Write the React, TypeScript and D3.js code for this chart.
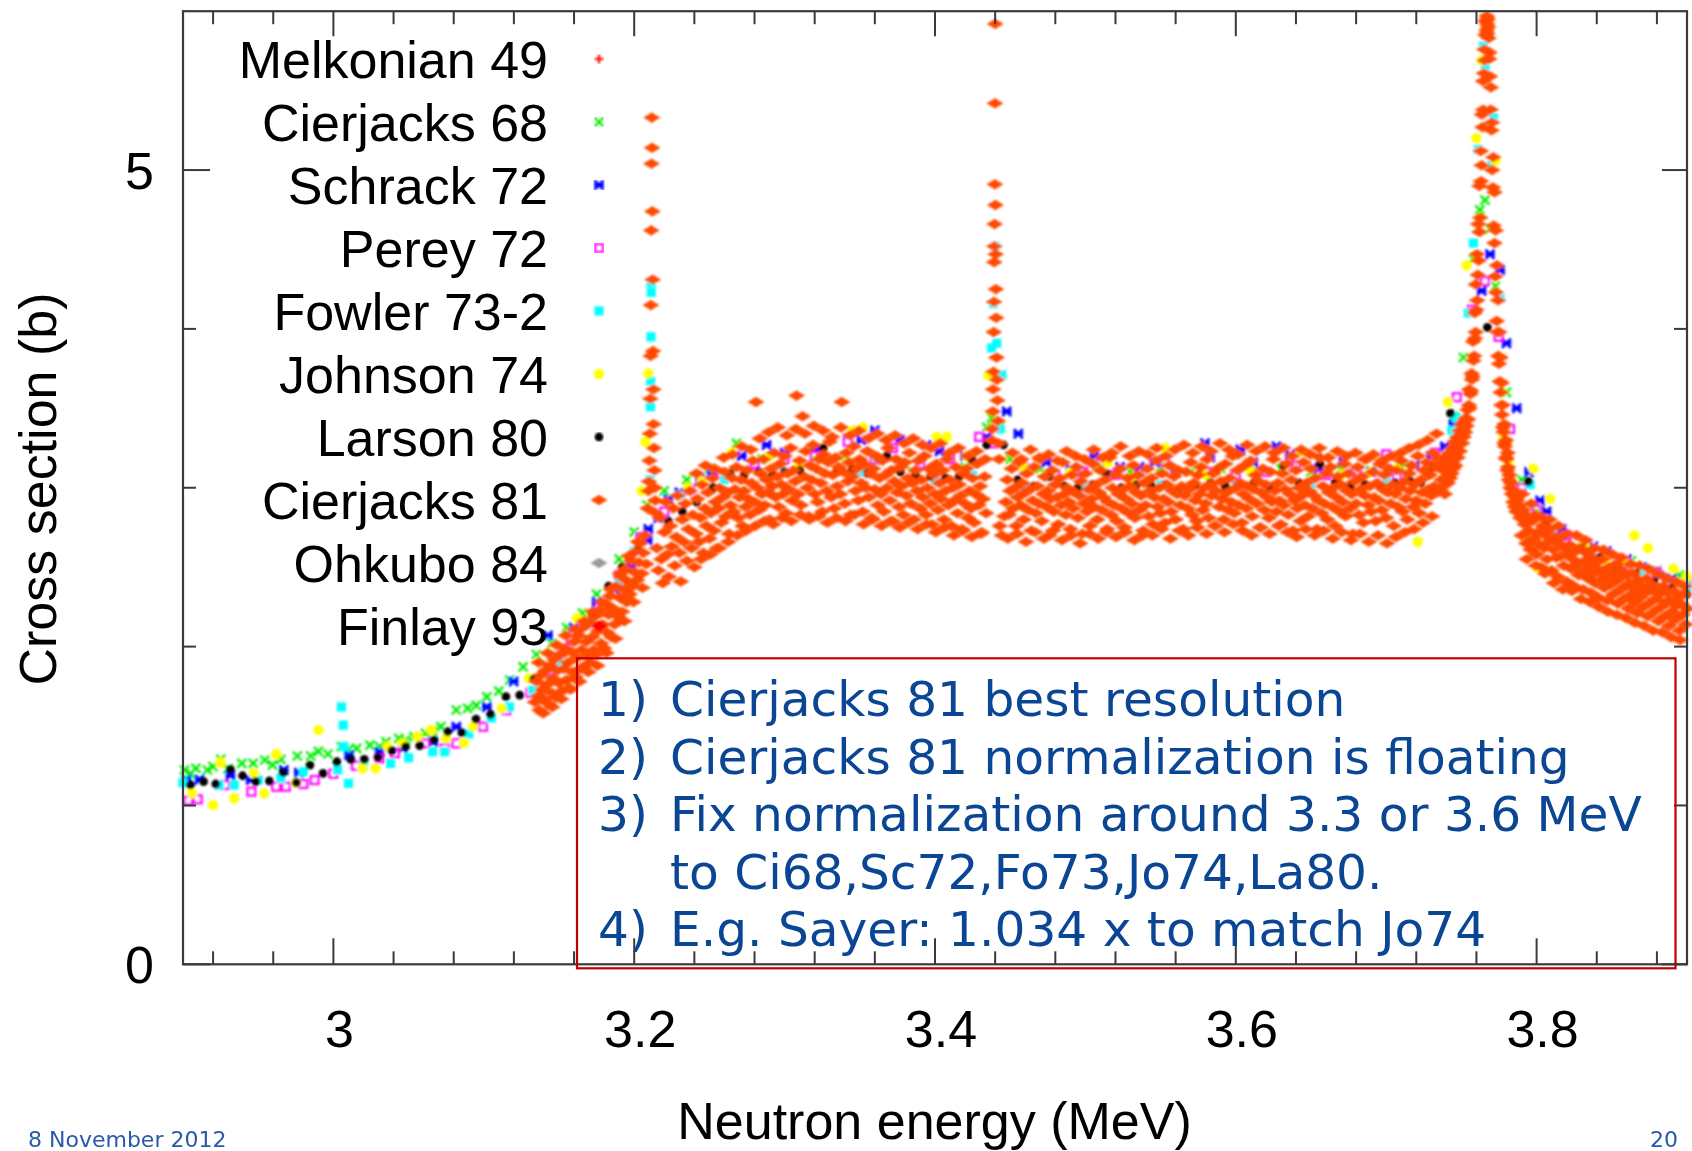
import React from 'react';
import * as d3 from 'd3';

// ---------- axes ----------
const X_DOMAIN = [2.9, 3.9];
const Y_DOMAIN = [0, 6];
const xMajorTicks = [3.0, 3.2, 3.4, 3.6, 3.8];
const xMajorLabels = ['3', '3.2', '3.4', '3.6', '3.8'];
const yMajorTicks = [0, 5];
const yMajorLabels = ['0', '5'];
const xTitle = 'Neutron energy (MeV)';
const yTitle = 'Cross section (b)';

// ---------- legend ----------
const legendNames = [
  'Melkonian 49', 'Cierjacks 68', 'Schrack 72', 'Perey 72', 'Fowler 73-2',
  'Johnson 74', 'Larson 80', 'Cierjacks 81', 'Ohkubo 84', 'Finlay 93',
];

// ---------- notes ----------
const noteLines = [
  { num: '1)', text: 'Cierjacks 81 best resolution' },
  { num: '2)', text: 'Cierjacks 81 normalization is floating' },
  { num: '3)', text: 'Fix normalization around 3.3 or 3.6 MeV' },
  { num: '', text: 'to Ci68,Sc72,Fo73,Jo74,La80.' },
  { num: '4)', text: 'E.g. Sayer: 1.034 x to match Jo74' },
];
const footerDate = '8 November 2012';
const footerPage = '20';

// ---------- low-resolution data sets: [E (MeV), sigma (b)] ----------
const melkonian49: number[][] = [];
const ohkubo84: number[][] = [];
const finlay93: number[][] = [];

const cierjacks68 = [
  [2.9009, 1.223], [2.905, 1.20], [2.9086, 1.234], [2.9162, 1.223], [2.92, 1.245], [2.9251, 1.29],
  [2.93, 1.23], [2.9391, 1.265], [2.9467, 1.265], [2.9544, 1.286], [2.9595, 1.255], [2.965, 1.29],
  [2.976, 1.311], [2.9849, 1.311], [2.99, 1.34], [2.9964, 1.324], [3.0053, 1.37], [3.01, 1.35],
  [3.0155, 1.36], [3.0243, 1.38], [3.0307, 1.37], [3.035, 1.40], [3.0435, 1.423], [3.048, 1.41],
  [3.0536, 1.433], [3.0612, 1.454], [3.066, 1.47], [3.0715, 1.496], [3.0817, 1.601], [3.0892, 1.611],
  [3.095, 1.63], [3.102, 1.684], [3.11, 1.72], [3.1172, 1.79], [3.1261, 1.873], [3.135, 1.95],
  [3.1452, 2.021], [3.155, 2.12], [3.1656, 2.21], [3.175, 2.33], [3.19, 2.55], [3.2, 2.72],
  [3.2087, 2.89], [3.22, 2.98], [3.235, 3.05], [3.25, 3.12], [3.268, 3.28], [3.285, 3.18],
  [3.30, 3.20], [3.32, 3.18], [3.34, 3.20], [3.36, 3.17], [3.38, 3.15], [3.40, 3.12], [3.42, 3.13],
  [3.4344, 3.38], [3.4377, 3.44], [3.4432, 3.39], [3.45, 3.18], [3.47, 3.12], [3.49, 3.10],
  [3.51, 3.12], [3.53, 3.10], [3.55, 3.13], [3.57, 3.10], [3.59, 3.12], [3.61, 3.14], [3.63, 3.12],
  [3.65, 3.10], [3.67, 3.12], [3.69, 3.11], [3.71, 3.13], [3.73, 3.20], [3.745, 3.45], [3.7513, 3.82],
  [3.758, 4.44], [3.7623, 4.75], [3.7657, 4.81], [3.769, 4.63], [3.7726, 4.27], [3.78, 3.60],
  [3.79, 3.05], [3.80, 2.85], [3.815, 2.70], [3.83, 2.62], [3.845, 2.58], [3.863, 2.54],
  [3.88, 2.48], [3.895, 2.45],
];

const schrack72 = [
  [2.9023, 1.16], [2.911, 1.164], [2.9315, 1.19], [2.945, 1.16], [2.967, 1.223], [2.977, 1.206],
  [3.0104, 1.317], [3.0307, 1.338], [3.046, 1.36], [3.0664, 1.40], [3.0817, 1.496], [3.102, 1.62],
  [3.1198, 1.78], [3.1427, 2.07], [3.16, 2.12], [3.175, 2.28], [3.187, 2.36], [3.198, 2.50],
  [3.209, 2.67], [3.2094, 2.74], [3.216, 2.81], [3.2227, 2.93], [3.23, 2.97], [3.2438, 3.05],
  [3.2515, 3.08], [3.2715, 3.20], [3.288, 3.27], [3.30, 3.22], [3.32, 3.24], [3.351, 3.30],
  [3.36, 3.36], [3.3767, 3.30], [3.3945, 3.27], [3.403, 3.23], [3.42, 3.20], [3.4344, 3.32],
  [3.4477, 3.48], [3.4554, 3.34], [3.474, 3.16], [3.49, 3.12], [3.506, 3.20], [3.523, 3.13],
  [3.536, 3.13], [3.546, 3.16], [3.56, 3.10], [3.5795, 3.28], [3.583, 3.19], [3.603, 3.24],
  [3.6116, 3.16], [3.627, 3.26], [3.636, 3.21], [3.655, 3.12], [3.6715, 3.16], [3.69, 3.10],
  [3.705, 3.12], [3.719, 3.14], [3.73, 3.20], [3.739, 3.26], [3.7446, 3.40], [3.7635, 4.24],
  [3.769, 4.47], [3.7757, 4.37], [3.78, 3.91], [3.7868, 3.50], [3.795, 3.10], [3.8023, 2.92],
  [3.8067, 2.85], [3.8167, 2.74], [3.8377, 2.63], [3.8466, 2.60], [3.86, 2.55], [3.87, 2.50],
  [3.882, 2.445], [3.89, 2.43], [3.90, 2.42],
];

const perey72 = [
  [2.9035, 1.03], [2.9098, 1.039], [2.928, 1.129], [2.9455, 1.087], [2.962, 1.118], [2.9684, 1.118],
  [2.98, 1.135], [2.9875, 1.16], [3.0, 1.20], [3.015, 1.25], [3.0307, 1.297], [3.0409, 1.328],
  [3.0612, 1.391], [3.074, 1.36], [3.0817, 1.391], [3.0995, 1.496], [3.115, 1.60], [3.1312, 1.71],
  [3.145, 1.85], [3.158, 2.04], [3.175, 2.22], [3.19, 2.45], [3.2039, 2.69], [3.22, 2.85],
  [3.237, 2.99], [3.258, 3.09], [3.28, 3.15], [3.30, 3.18], [3.32, 3.20], [3.342, 3.29],
  [3.36, 3.18], [3.372, 3.25], [3.39, 3.15], [3.41, 3.18], [3.4294, 3.32], [3.4388, 3.28],
  [3.46, 3.12], [3.48, 3.08], [3.4986, 3.10], [3.52, 3.08], [3.5527, 3.16], [3.58, 3.10],
  [3.60, 3.08], [3.62, 3.10], [3.64, 3.14], [3.66, 3.08], [3.68, 3.10], [3.70, 3.21], [3.707, 3.07],
  [3.7324, 3.22], [3.7469, 3.57], [3.757, 4.12], [3.7657, 4.30], [3.7748, 3.95], [3.7823, 3.37],
  [3.79, 3.00], [3.80, 2.86], [3.82, 2.70], [3.84, 2.60], [3.86, 2.53], [3.88, 2.47], [3.90, 2.40],
];

const fowler73 = [
  [2.90, 1.143], [2.924, 1.129], [2.934, 1.129], [2.95, 1.16], [2.965, 1.17], [2.98, 1.212],
  [3.0027, 1.223], [3.0053, 1.62], [3.0066, 1.506], [3.007, 1.37], [3.01, 1.139], [3.02, 1.25],
  [3.038, 1.265], [3.05, 1.30], [3.066, 1.338], [3.074, 1.338], [3.09, 1.45], [3.105, 1.55],
  [3.117, 1.62], [3.1325, 1.727], [3.15, 1.90], [3.17, 2.15], [3.19, 2.40], [3.20, 2.60],
  [3.2105, 3.05], [3.2108, 3.51], [3.211, 3.67], [3.2112, 3.95], [3.2113, 4.23], [3.2114, 4.29],
  [3.23, 2.95], [3.26, 3.05], [3.30, 3.10], [3.35, 3.10], [3.40, 3.05], [3.425, 3.08],
  [3.4377, 3.88], [3.4388, 4.16], [3.44, 4.52], [3.441, 3.91], [3.4432, 3.37], [3.4444, 3.71],
  [3.46, 3.00], [3.50, 3.00], [3.55, 3.02], [3.60, 3.02], [3.65, 3.00], [3.70, 3.05],
  [3.7436, 3.36], [3.7469, 3.44], [3.7546, 4.10], [3.758, 4.54], [3.7613, 5.13], [3.7646, 5.78],
  [3.7657, 5.65], [3.77, 5.03], [3.7712, 5.33], [3.7757, 4.19], [3.7956, 3.02], [3.81, 2.70],
  [3.84, 2.55], [3.87, 2.45], [3.90, 2.38],
];

const johnson74 = [
  [2.906, 1.076], [2.92, 1.003], [2.925, 1.269], [2.934, 1.045], [2.947, 1.202], [2.954, 1.076],
  [2.962, 1.324], [2.975, 1.143], [2.99, 1.475], [3.0193, 1.234], [3.028, 1.234], [3.036, 1.37],
  [3.046, 1.391], [3.056, 1.433], [3.065, 1.475], [3.075, 1.423], [3.0867, 1.395], [3.093, 1.496],
  [3.112, 1.611], [3.13, 1.80], [3.1618, 2.178], [3.205, 2.98], [3.2074, 3.29], [3.2094, 3.72],
  [3.2357, 3.00], [3.245, 3.04], [3.2648, 3.22], [3.29, 3.20], [3.31, 3.15], [3.3455, 3.36],
  [3.3522, 3.38], [3.4011, 3.32], [3.4078, 3.32], [3.421, 3.20], [3.4355, 3.71], [3.46, 3.12],
  [3.49, 3.10], [3.515, 3.16], [3.53, 3.05], [3.553, 3.25], [3.58, 3.08], [3.61, 3.10],
  [3.644, 3.23], [3.67, 3.08], [3.69, 3.10], [3.707, 3.12], [3.721, 2.66], [3.741, 3.54],
  [3.7535, 4.40], [3.76, 5.20], [3.7635, 5.69], [3.7726, 5.06], [3.7757, 3.82], [3.778, 3.33],
  [3.7812, 3.16], [3.7845, 2.92], [3.7934, 2.68], [3.7978, 3.12], [3.80, 2.50], [3.809, 2.93],
  [3.82, 2.62], [3.832, 2.64], [3.845, 2.55], [3.858, 2.54], [3.865, 2.70], [3.874, 2.62],
  [3.891, 2.49], [3.90, 2.44],
];

const larson80 = [
  [2.905, 1.129], [2.9137, 1.15], [2.9218, 1.135], [2.9315, 1.227], [2.9396, 1.187], [2.9485, 1.15],
  [2.9574, 1.154], [2.9666, 1.208], [2.9753, 1.143], [2.9844, 1.254], [2.9931, 1.202], [3.0023, 1.275],
  [3.0116, 1.29], [3.0205, 1.29], [3.0297, 1.303], [3.0389, 1.345], [3.048, 1.37], [3.0574, 1.376],
  [3.0669, 1.412], [3.076, 1.464], [3.0854, 1.458], [3.0948, 1.544], [3.1045, 1.574], [3.1147, 1.685],
  [3.1239, 1.695], [3.1333, 1.796], [3.1529, 1.958], [3.1626, 2.084], [3.172, 2.20], [3.183, 2.38],
  [3.192, 2.50], [3.2021, 2.61], [3.2227, 2.79], [3.232, 2.85], [3.2416, 2.91], [3.2525, 3.00],
  [3.2637, 3.09], [3.273, 3.08], [3.283, 3.10], [3.292, 3.08], [3.30, 3.10], [3.31, 3.11],
  [3.3257, 3.25], [3.335, 3.10], [3.345, 3.12], [3.355, 3.09], [3.368, 3.20], [3.377, 3.10],
  [3.387, 3.08], [3.397, 3.07], [3.407, 3.06], [3.416, 3.07], [3.4244, 3.18], [3.4344, 3.27],
  [3.4455, 3.27], [3.455, 3.05], [3.466, 3.01], [3.476, 3.07], [3.486, 3.01], [3.495, 3.00],
  [3.505, 3.02], [3.514, 3.09], [3.524, 3.00], [3.534, 3.02], [3.544, 3.01], [3.553, 3.02],
  [3.563, 3.00], [3.573, 3.02], [3.583, 3.03], [3.593, 3.01], [3.602, 3.02], [3.612, 3.03],
  [3.622, 3.01], [3.6316, 3.14], [3.642, 3.03], [3.656, 3.15], [3.666, 3.03], [3.676, 3.01],
  [3.686, 3.02], [3.696, 3.01], [3.706, 3.03], [3.716, 3.04], [3.723, 3.03], [3.731, 3.13],
  [3.7427, 3.47], [3.7673, 4.01], [3.7945, 3.04], [3.8066, 2.79], [3.818, 2.70], [3.83, 2.62],
  [3.842, 2.56], [3.854, 2.50], [3.866, 2.46], [3.878, 2.41], [3.89, 2.37], [3.90, 2.33],
];

// ---------- Cierjacks 81 high-resolution data: flat [E (keV), sigma (cb)] pairs ----------
const ci81Rise = [
  3134,165, 3135,178, 3136,169, 3137,160, 3138,182, 3139,173, 3140,167, 3141,185, 3142,176, 3143,164,
  3144,188, 3145,171, 3146,180, 3147,192, 3148,168, 3149,185, 3150,177, 3151,195, 3152,172, 3153,186,
  3154,199, 3155,179, 3156,190, 3157,174, 3158,197, 3159,184, 3160,203, 3161,181, 3162,193, 3163,207,
  3164,186, 3165,198, 3166,212, 3167,188, 3168,203, 3169,194, 3170,215, 3171,190, 3172,206, 3173,198,
  3174,219, 3175,195, 3176,210, 3177,223, 3178,202, 3179,214, 3180,199, 3181,227, 3182,209, 3183,220,
  3184,232, 3185,206, 3186,224, 3187,214, 3188,238, 3189,219, 3190,231, 3191,244, 3192,222, 3193,236,
  3194,249, 3195,228, 3196,241, 3197,233, 3198,254, 3199,238, 3200,247, 3201,260, 3202,242, 3203,253,
  3204,265, 3205,246, 3206,259, 3207,270, 3208,252,
  3136.5,190, 3139.5,158, 3142.5,196, 3145.5,162, 3148.5,201, 3151.5,167, 3154.5,207, 3157.5,173,
  3160.5,211, 3163.5,178, 3166.5,216, 3169.5,184, 3172.5,222, 3175.5,188, 3178.5,228, 3181.5,196,
  3184.5,236, 3187.5,205, 3190.5,246, 3193.5,216, 3196.5,257, 3199.5,228, 3202.5,266, 3205.5,237,
];

const ci81Peak1 = [
  3209.0,287, 3209.4,298, 3209.8,304, 3210.1,317, 3210.4,334, 3210.7,356, 3210.9,383, 3211.1,415,
  3211.3,462, 3211.5,504, 3211.7,533, 3211.9,514, 3212.1,474, 3212.3,431, 3212.5,386, 3212.7,362,
  3212.9,340, 3213.1,325, 3213.4,311, 3213.7,300, 3214.0,292, 3214.4,284,
];

const ci81PlateauA = [
  3215,262, 3216,248, 3217,281, 3218,255, 3219,240, 3220,272, 3221,291, 3222,258, 3223,244, 3224,276,
  3225,263, 3226,287, 3227,251, 3228,269, 3229,295, 3230,259, 3231,241, 3232,280, 3233,266, 3234,290,
  3235,254, 3236,274, 3237,298, 3238,262, 3239,283, 3240,250, 3241,271, 3242,293, 3243,266, 3244,281,
  3245,302, 3246,259, 3247,287, 3248,276, 3249,297, 3250,268, 3251,284, 3252,306, 3253,273, 3254,291,
  3255,262, 3256,287, 3257,300, 3258,278, 3259,294, 3260,310, 3261,282, 3262,297, 3263,271, 3264,289,
  3265,306, 3266,285, 3267,299, 3268,313, 3269,281, 3270,294, 3271,305, 3272,276, 3273,298, 3274,288,
  3275,311, 3276,293, 3277,283, 3278,303, 3279,317, 3280,291, 3281,354, 3282,300, 3283,286, 3284,309,
  3285,296, 3286,318, 3287,289, 3288,305, 3289,297, 3290,280, 3291,312, 3292,301, 3293,322, 3294,294,
  3295,307, 3296,288, 3297,315, 3298,302, 3299,296, 3300,320, 3301,284, 3302,309, 3303,299, 3304,325,
  3305,292, 3306,311, 3307,304, 3308,358, 3309,296, 3310,317, 3311,289, 3312,345, 3313,307, 3314,323,
  3315,300, 3316,282, 3317,314, 3318,305, 3319,327, 3320,296, 3321,312, 3322,291, 3323,318, 3324,303,
  3325,285, 3326,321, 3327,309, 3328,298, 3329,316, 3330,329, 3331,294, 3332,308, 3333,287, 3334,319,
  3335,301, 3336,313, 3337,296, 3338,354, 3339,310, 3340,290, 3341,322, 3342,304, 3343,316, 3344,283,
  3345,307, 3346,326, 3347,298, 3348,312, 3349,292, 3350,318, 3351,303, 3352,285, 3353,315, 3354,300,
  3355,323, 3356,294, 3357,309, 3358,281, 3359,312, 3360,299, 3361,320, 3362,289, 3363,306, 3364,296,
  3365,317, 3366,285, 3367,308, 3368,300, 3369,325, 3370,292, 3371,311, 3372,279, 3373,304, 3374,318,
  3375,297, 3376,288, 3377,313, 3378,301, 3379,283, 3380,316, 3381,295, 3382,306, 3383,322, 3384,290,
  3385,303, 3386,280, 3387,311, 3388,298, 3389,317, 3390,287, 3391,305, 3392,294, 3393,320, 3394,283,
  3395,300, 3396,312, 3397,290, 3398,277, 3399,308, 3400,296, 3401,315, 3402,286, 3403,303, 3404,293,
  3405,311, 3406,280, 3407,298, 3408,318, 3409,289, 3410,305, 3411,276, 3412,300, 3413,292, 3414,313,
  3415,284, 3416,302, 3417,295, 3418,274, 3419,309, 3420,290, 3421,312, 3422,281, 3423,298, 3424,287,
  3425,306, 3426,278, 3427,296, 3428,315, 3429,289, 3430,301, 3431,272, 3432,293, 3433,307, 3434,284,
];

// points scattered towards the upper and lower edge of the plateau band
const ci81EdgesA = [
  3241.5,309, 3244.5,255, 3247.5,314, 3250.5,258, 3253.5,312, 3256.5,262, 3259.5,319, 3262.5,266,
  3265.5,321, 3268.5,270, 3271.5,326, 3274.5,273, 3277.5,324, 3280.5,276, 3283.5,331, 3286.5,279,
  3289.5,335, 3292.5,277, 3295.5,338, 3298.5,281, 3301.5,333, 3304.5,279, 3307.5,337, 3310.5,283,
  3313.5,334, 3316.5,280, 3319.5,339, 3322.5,282, 3325.5,336, 3328.5,278, 3331.5,332, 3334.5,281,
  3337.5,338, 3340.5,279, 3343.5,333, 3346.5,283, 3349.5,336, 3352.5,277, 3355.5,331, 3358.5,280,
  3361.5,334, 3364.5,276, 3367.5,330, 3370.5,279, 3373.5,333, 3376.5,275, 3379.5,328, 3382.5,278,
  3385.5,331, 3388.5,274, 3391.5,327, 3394.5,277, 3397.5,325, 3400.5,272, 3403.5,328, 3406.5,275,
  3409.5,322, 3412.5,270, 3415.5,325, 3418.5,273, 3421.5,320, 3424.5,269, 3427.5,323, 3430.5,271,
  3433.5,318,
];

const ci81Peak2 = [
  3437.8,330, 3438.1,337, 3438.4,348, 3438.6,362, 3438.8,373, 3439.0,398, 3439.2,417, 3439.35,442,
  3439.5,452, 3439.65,466, 3439.8,491, 3439.9,542, 3440.0,592, 3440.15,478, 3440.3,447, 3440.5,425,
  3440.7,407, 3440.9,382, 3441.2,368, 3441.5,355, 3441.8,342, 3442.2,328, 3442.6,318,
  3443.0,276, 3444.5,270, 3446.0,282,
];

const ci81PlateauB = [
  3447,291, 3448,305, 3449,283, 3450,298, 3451,312, 3452,287, 3453,300, 3454,276, 3455,294, 3456,316,
  3457,289, 3458,303, 3459,280, 3460,297, 3461,309, 3462,286, 3463,299, 3464,273, 3465,292, 3466,313,
  3467,284, 3468,301, 3469,290, 3470,318, 3471,279, 3472,296, 3473,307, 3474,288, 3475,298, 3476,270,
  3477,293, 3478,311, 3479,285, 3480,302, 3481,294, 3482,277, 3483,306, 3484,289, 3485,316, 3486,296,
  3487,283, 3488,300, 3489,291, 3490,274, 3491,308, 3492,287, 3493,297, 3494,313, 3495,281, 3496,295,
  3497,304, 3498,271, 3499,290, 3500,309, 3501,285, 3502,299, 3503,276, 3504,293, 3505,315, 3506,288,
  3507,302, 3508,280, 3509,297, 3510,311, 3511,286, 3512,294, 3513,305, 3514,272, 3515,291, 3516,319,
  3517,283, 3518,300, 3519,289, 3520,308, 3521,279, 3522,296, 3523,312, 3524,287, 3525,299, 3526,275,
  3527,293, 3528,306, 3529,284, 3530,301, 3531,290, 3532,314, 3533,281, 3534,297, 3535,308, 3536,286,
  3537,295, 3538,270, 3539,303, 3540,289, 3541,312, 3542,282, 3543,298, 3544,306, 3545,277, 3546,294,
  3547,317, 3548,288, 3549,300, 3550,284, 3551,309, 3552,293, 3553,278, 3554,302, 3555,291, 3556,314,
  3557,285, 3558,298, 3559,307, 3560,280, 3561,296, 3562,311, 3563,289, 3564,301, 3565,274, 3566,295,
  3567,310, 3568,287, 3569,299, 3570,316, 3571,283, 3572,303, 3573,292, 3574,279, 3575,308, 3576,296,
  3577,313, 3578,286, 3579,300, 3580,290, 3581,318, 3582,281, 3583,302, 3584,295, 3585,309, 3586,276,
  3587,298, 3588,312, 3589,288, 3590,304, 3591,293, 3592,280, 3593,315, 3594,297, 3595,286, 3596,306,
  3597,291, 3598,320, 3599,284, 3600,300, 3601,311, 3602,289, 3603,303, 3604,278, 3605,296, 3606,314,
  3607,287, 3608,301, 3609,293, 3610,317, 3611,282, 3612,299, 3613,308, 3614,290, 3615,304, 3616,275,
  3617,297, 3618,312, 3619,286, 3620,302, 3621,294, 3622,281, 3623,310, 3624,291, 3625,318, 3626,298,
  3627,285, 3628,303, 3629,292, 3630,277, 3631,309, 3632,289, 3633,299, 3634,315, 3635,283, 3636,296,
  3637,305, 3638,273, 3639,292, 3640,311, 3641,287, 3642,300, 3643,279, 3644,295, 3645,316, 3646,289,
  3647,303, 3648,282, 3649,298, 3650,312, 3651,287, 3652,295, 3653,306, 3654,274, 3655,292, 3656,319,
  3657,284, 3658,301, 3659,290, 3660,309, 3661,280, 3662,297, 3663,313, 3664,288, 3665,300, 3666,276,
  3667,294, 3668,307, 3669,285, 3670,302, 3671,291, 3672,315, 3673,282, 3674,298, 3675,309, 3676,287,
  3677,296, 3678,271, 3679,304, 3680,290, 3681,313, 3682,283, 3683,299, 3684,307, 3685,278, 3686,295,
  3687,318, 3688,289, 3689,301, 3690,285, 3691,310, 3692,294, 3693,279, 3694,303, 3695,292, 3696,315,
  3697,286, 3698,299, 3699,308, 3700,281, 3701,297, 3702,312, 3703,290, 3704,302, 3705,276, 3706,296,
  3707,311, 3708,288, 3709,300, 3710,317, 3711,285, 3712,304, 3713,293, 3714,280, 3715,309, 3716,298,
  3717,314, 3718,288, 3719,302, 3720,292, 3721,320, 3722,284, 3723,305, 3724,297, 3725,311, 3726,290,
  3727,316, 3728,299, 3729,308, 3730,295, 3731,322, 3732,301, 3733,313, 3734,297, 3735,318,
];

const ci81EdgesB = [
  3448.5,268, 3451.5,322, 3454.5,271, 3457.5,318, 3460.5,266, 3463.5,324, 3466.5,272, 3469.5,319,
  3472.5,268, 3475.5,321, 3478.5,273, 3481.5,317, 3484.5,267, 3487.5,323, 3490.5,270, 3493.5,320,
  3496.5,265, 3499.5,318, 3502.5,271, 3505.5,324, 3508.5,268, 3511.5,319, 3514.5,274, 3517.5,322,
  3520.5,269, 3523.5,326, 3526.5,272, 3529.5,320, 3532.5,267, 3535.5,323, 3538.5,273, 3541.5,321,
  3544.5,270, 3547.5,325, 3550.5,274, 3553.5,320, 3556.5,268, 3559.5,324, 3562.5,273, 3565.5,327,
  3568.5,270, 3571.5,322, 3574.5,275, 3577.5,326, 3580.5,271, 3583.5,323, 3586.5,276, 3589.5,328,
  3592.5,272, 3595.5,324, 3598.5,277, 3601.5,321, 3604.5,273, 3607.5,327, 3610.5,270, 3613.5,323,
  3616.5,275, 3619.5,326, 3622.5,271, 3625.5,322, 3628.5,276, 3631.5,325, 3634.5,272, 3637.5,320,
  3640.5,269, 3643.5,324, 3646.5,274, 3649.5,321, 3652.5,270, 3655.5,325, 3658.5,273, 3661.5,319,
  3664.5,268, 3667.5,323, 3670.5,272, 3673.5,320, 3676.5,267, 3679.5,322, 3682.5,271, 3685.5,318,
  3688.5,266, 3691.5,321, 3694.5,270, 3697.5,317, 3700.5,265, 3703.5,320, 3706.5,269, 3709.5,322,
  3712.5,272, 3715.5,325, 3718.5,274, 3721.5,327, 3724.5,278, 3727.5,330, 3730.5,282, 3733.5,334,
];

const ci81Peak3 = [
  3736,312, 3736.5,298, 3737,305, 3737.5,318, 3738,301, 3738.5,311, 3739,296, 3739.5,316, 3740,307,
  3740.5,320, 3741,303, 3741.5,312, 3742,322, 3742.5,306, 3743,316, 3743.5,309, 3744,325, 3744.5,312,
  3745,319, 3745.5,329, 3746,314, 3746.5,324, 3747,332, 3747.5,319, 3748,327, 3748.5,336, 3749,323,
  3749.5,331, 3750,340, 3750.5,328, 3751,337, 3751.5,332, 3752,342, 3752.5,335, 3753,344, 3753.5,339,
  3754,349, 3754.5,343, 3755,352, 3755.5,350, 3756,359, 3756.5,361, 3757,368, 3757.5,370, 3758,380,
  3758.5,383, 3759,394, 3759.5,398, 3760,412, 3760.5,418, 3761,434, 3761.5,443, 3762,461, 3762.5,470,
  3763,493, 3763.5,503, 3764,527, 3764.5,538, 3765,561, 3765.5,569, 3766,585, 3766.3,594, 3766.6,588,
  3767,592, 3767.3,586, 3767.6,595, 3768,583, 3768.5,570, 3769,559, 3769.5,538, 3770,525, 3770.5,500,
  3771,489, 3771.5,465, 3772,454, 3772.5,433, 3773,423, 3773.5,405, 3774,398, 3774.5,383, 3775,378,
  3775.5,367, 3776,360, 3776.5,352, 3777,346, 3777.5,338, 3778,335, 3778.5,328, 3779,326, 3779.5,319,
  3780,318, 3780.5,311, 3781,313, 3781.5,305, 3782,308, 3782.5,300, 3783,303, 3783.5,296, 3784,299,
  3784.5,291, 3785,297, 3785.5,288, 3786,294, 3786.5,285, 3787,292,
  3755.2,362, 3756.8,372, 3757.8,392, 3758.8,410, 3759.6,428, 3760.4,447, 3761.2,466, 3762.0,490,
  3762.8,512, 3763.6,535, 3764.4,556, 3765.2,576, 3766.0,594, 3766.9,597, 3767.8,590, 3768.7,574,
  3769.6,552, 3770.4,530, 3771.2,508, 3772.0,486, 3772.8,462, 3773.6,440, 3774.4,418, 3775.2,398,
  3776.0,382, 3776.8,366, 3777.6,352, 3778.6,340, 3779.6,330, 3780.8,322,
];

const ci81Tail = [
  3788,289, 3789,281, 3790,270, 3791,286, 3792,277, 3793,265, 3794,282, 3795,273, 3796,261, 3797,279,
  3798,268, 3799,283, 3800,258, 3801,272, 3802,264, 3803,250, 3804,276, 3805,262, 3806,270, 3807,255,
  3808,266, 3809,274, 3810,248, 3811,261, 3812,269, 3813,256, 3814,244, 3815,265, 3816,257, 3817,270,
  3818,251, 3819,262, 3820,241, 3821,258, 3822,264, 3823,249, 3824,255, 3825,238, 3826,260, 3827,252,
  3828,245, 3829,262, 3830,247, 3831,236, 3832,254, 3833,259, 3834,243, 3835,250, 3836,234, 3837,256,
  3838,246, 3839,240, 3840,253, 3841,231, 3842,248, 3843,242, 3844,255, 3845,237, 3846,244, 3847,229,
  3848,250, 3849,239, 3850,246, 3851,233, 3852,241, 3853,252, 3854,227, 3855,243, 3856,236, 3857,248,
  3858,230, 3859,238, 3860,245, 3861,224, 3862,240, 3863,233, 3864,246, 3865,228, 3866,236, 3867,221,
  3868,242, 3869,231, 3870,238, 3871,225, 3872,234, 3873,243, 3874,219, 3875,235, 3876,228, 3877,239,
  3878,222, 3879,230, 3880,236, 3881,216, 3882,233, 3883,225, 3884,238, 3885,219, 3886,228, 3887,234,
  3888,213, 3889,229, 3890,222, 3891,235, 3892,217, 3893,226, 3894,231, 3895,210, 3896,227, 3897,220,
  3898,233, 3899,214, 3900,224,
  3790.5,296, 3793.5,255, 3796.5,290, 3799.5,251, 3802.5,282, 3805.5,246, 3808.5,280, 3811.5,240,
  3814.5,276, 3817.5,236, 3820.5,271, 3823.5,235, 3826.5,270, 3829.5,230, 3832.5,267, 3835.5,228,
  3838.5,262, 3841.5,225, 3844.5,261, 3847.5,222, 3850.5,258, 3853.5,220, 3856.5,256, 3859.5,218,
  3862.5,252, 3865.5,215, 3868.5,251, 3871.5,213, 3874.5,249, 3877.5,210, 3880.5,246, 3883.5,209,
  3886.5,243, 3889.5,206, 3892.5,241, 3895.5,204, 3898.5,238,
];

// flat keV / centibarn pairs -> [MeV, barn]
function fromPairs(flat: number[]): number[][] {
  const out: number[][] = [];
  for (let i = 0; i < flat.length; i += 2) out.push([flat[i] / 1000, flat[i + 1] / 100]);
  return out;
}

const cierjacks81 = [
  ci81Rise, ci81Peak1, ci81PlateauA, ci81EdgesA, ci81Peak2, ci81PlateauB, ci81EdgesB, ci81Peak3, ci81Tail,
].flatMap(fromPairs);

// ---------- layout ----------
const W = 1692;
const H = 1151;
const PLOT = { left: 183, right: 1687, top: 11.2, bottom: 964.3 };

const x = d3.scaleLinear().domain(X_DOMAIN).range([PLOT.left, PLOT.right]);
const y = d3.scaleLinear().domain(Y_DOMAIN).range([PLOT.bottom, PLOT.top]);

const xMinorTicks = d3.range(2.92, 3.9, 0.04).filter(
  (v) => !xMajorTicks.some((m) => Math.abs(m - v) < 1e-6)
);
const yMinorTicks = [1, 2, 3, 4];

const AXIS_COLOR = '#3a3a3a';
const TEXT_FONT = '"Liberation Sans", Arial, Helvetica, sans-serif';
const NOTE_FONT = '"DejaVu Sans", Verdana, sans-serif';
const NOTE_COLOR = '#0b4694';

type MarkerKind = 'plus' | 'cross' | 'star' | 'openSquare' | 'square' | 'circle' | 'dot' | 'spark';

const SPARK_PATH = 'M-8.6,0 L-3.5,-2.9 L0,-5.3 L3.5,-2.9 L8.6,0 L3.5,2.9 L0,5.3 L-3.5,2.9 Z';

function Marker({ kind, color, cx, cy }: { kind: MarkerKind; color: string; cx: number; cy: number }) {
  const t = `translate(${cx.toFixed(1)},${cy.toFixed(1)})`;
  switch (kind) {
    case 'plus':
      return <path transform={t} d="M-4.5,0H4.5M0,-4.5V4.5" stroke={color} strokeWidth={2.2} fill="none" />;
    case 'cross':
      return <path transform={t} d="M-4.5,-4.5L4.5,4.5M-4.5,4.5L4.5,-4.5" stroke={color} strokeWidth={2.4} fill="none" />;
    case 'star':
      return <path transform={t} d="M-4.5,-4.5L4.5,4.5M-4.5,4.5L4.5,-4.5M-5,0H5" stroke={color} strokeWidth={2.8} fill="none" />;
    case 'openSquare':
      return <rect transform={t} x={-4} y={-4} width={8} height={8} stroke={color} strokeWidth={2.2} fill="none" />;
    case 'square':
      return <rect transform={t} x={-4.6} y={-4.6} width={9.2} height={9.2} fill={color} />;
    case 'circle':
      return <circle cx={cx} cy={cy} r={5.2} fill={color} />;
    case 'dot':
      return <circle cx={cx} cy={cy} r={4.4} fill={color} />;
    case 'spark':
    default:
      return <path transform={t} d={SPARK_PATH} fill={color} />;
  }
}

const seriesList: { name: string; data: number[][]; kind: MarkerKind; color: string }[] = [
  { name: legendNames[0], data: melkonian49, kind: 'plus', color: '#ff0000' },
  { name: legendNames[1], data: cierjacks68, kind: 'cross', color: '#00ee00' },
  { name: legendNames[2], data: schrack72, kind: 'star', color: '#0000ff' },
  { name: legendNames[3], data: perey72, kind: 'openSquare', color: '#ff00ff' },
  { name: legendNames[4], data: fowler73, kind: 'square', color: '#00ffff' },
  { name: legendNames[5], data: johnson74, kind: 'circle', color: '#ffff00' },
  { name: legendNames[6], data: larson80, kind: 'dot', color: '#000000' },
  { name: legendNames[7], data: cierjacks81, kind: 'spark', color: '#ff4a00' },
  { name: legendNames[8], data: ohkubo84, kind: 'spark', color: '#9a9a9a' },
  { name: legendNames[9], data: finlay93, kind: 'spark', color: '#ff0000' },
];

export default function App() {
  const legendX = 548;
  const legendMarkerX = 599;
  const legendY0 = 59;
  const legendStep = 63;

  return (
    <div style={{ position: 'absolute', left: 0, top: 0, background: '#fff' }}>
      <svg width={W} height={H} viewBox={`0 0 ${W} ${H}`} style={{ display: 'block' }}>
        <defs>
          <filter id="soft" x="-5%" y="-5%" width="110%" height="110%">
            <feGaussianBlur stdDeviation={0.85} />
          </filter>
        </defs>
        <rect x={0} y={0} width={W} height={H} fill="#ffffff" />

        {/* data */}
        <g filter="url(#soft)">
          {seriesList.map((s) => (
            <g key={s.name}>
              {s.data.map((d, i) => (
                <Marker key={i} kind={s.kind} color={s.color} cx={x(d[0])} cy={y(d[1])} />
              ))}
            </g>
          ))}
        </g>

        {/* frame */}
        <rect
          x={PLOT.left}
          y={PLOT.top}
          width={PLOT.right - PLOT.left}
          height={PLOT.bottom - PLOT.top}
          fill="none"
          stroke={AXIS_COLOR}
          strokeWidth={2.2}
        />

        {/* ticks on all four sides */}
        <g stroke={AXIS_COLOR} strokeWidth={2}>
          {xMajorTicks.map((v) => (
            <g key={`xM${v}`}>
              <line x1={x(v)} x2={x(v)} y1={PLOT.bottom} y2={PLOT.bottom - 26} />
              <line x1={x(v)} x2={x(v)} y1={PLOT.top} y2={PLOT.top + 25} />
            </g>
          ))}
          {xMinorTicks.map((v) => (
            <g key={`xm${v}`}>
              <line x1={x(v)} x2={x(v)} y1={PLOT.bottom} y2={PLOT.bottom - 13} />
              <line x1={x(v)} x2={x(v)} y1={PLOT.top} y2={PLOT.top + 13} />
            </g>
          ))}
          {yMajorTicks.map((v) => (
            <g key={`yM${v}`}>
              <line x1={PLOT.left} x2={PLOT.left + 27} y1={y(v)} y2={y(v)} />
              <line x1={PLOT.right} x2={PLOT.right - 25} y1={y(v)} y2={y(v)} />
            </g>
          ))}
          {yMinorTicks.map((v) => (
            <g key={`ym${v}`}>
              <line x1={PLOT.left} x2={PLOT.left + 13} y1={y(v)} y2={y(v)} />
              <line x1={PLOT.right} x2={PLOT.right - 13} y1={y(v)} y2={y(v)} />
            </g>
          ))}
        </g>

        {/* tick labels and titles */}
        <g fontFamily={TEXT_FONT} fontSize={52} fill="#000">
          {xMajorTicks.map((v, i) => (
            <text key={`xl${v}`} x={x(v) + 6} y={1046.5} textAnchor="middle">
              {xMajorLabels[i]}
            </text>
          ))}
          {yMajorTicks.map((v, i) => (
            <text key={`yl${v}`} x={154} y={y(v) + 18.5} textAnchor="end">
              {yMajorLabels[i]}
            </text>
          ))}
          <text x={934.5} y={1139} textAnchor="middle">
            {xTitle}
          </text>
          <text transform="translate(56,489) rotate(-90)" textAnchor="middle">
            {yTitle}
          </text>
        </g>

        {/* legend */}
        <g fontFamily={TEXT_FONT} fontSize={52} fill="#000">
          {seriesList.map((s, i) => {
            const ly = legendY0 + i * legendStep;
            return (
              <g key={`lg${s.name}`}>
                <text x={legendX} y={ly + 18.5} textAnchor="end">
                  {s.name}
                </text>
                <g filter="url(#soft)">
                  <Marker kind={s.kind} color={s.color} cx={legendMarkerX} cy={ly} />
                </g>
              </g>
            );
          })}
        </g>

        {/* notes box */}
        <rect x={577} y={658.3} width={1098.5} height={310} fill="none" stroke="#c00000" strokeWidth={2.2} />
        <g fontFamily={NOTE_FONT} fontSize={48.6} fill={NOTE_COLOR}>
          {noteLines.map((l, i) => {
            const by = 716 + i * 57.5;
            return (
              <g key={`n${i}`}>
                {l.num && (
                  <text x={598} y={by}>
                    {l.num}
                  </text>
                )}
                <text x={670} y={by}>
                  {l.text}
                </text>
              </g>
            );
          })}
        </g>

        {/* slide footer */}
        <g fontFamily={NOTE_FONT} fontSize={22} fill="#2a5aa8">
          <text x={28} y={1147}>{footerDate}</text>
          <text x={1650} y={1147}>{footerPage}</text>
        </g>
      </svg>
    </div>
  );
}
